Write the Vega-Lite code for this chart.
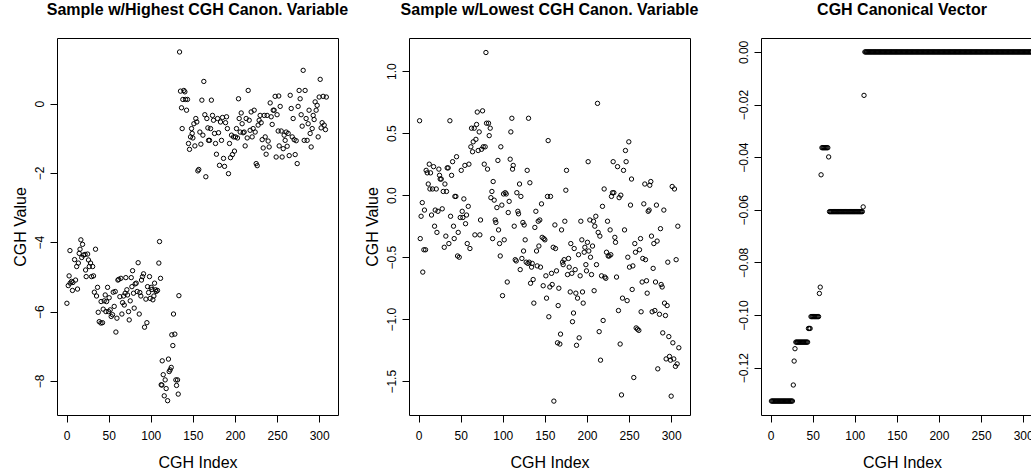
{
"$schema": "https://vega.github.io/schema/vega-lite/v6.json",
"autosize": {"type": "none"},
"padding": {"left": 57, "top": 38, "right": 974, "bottom": 434},
"background": "white",
"bounds": "flush",
"spacing": 71,
"config": {
  "view": {"stroke": "black", "strokeWidth": 1},
  "font": "Liberation Sans",
  "axis": {"domain": false, "grid": false, "tickColor": "black", "tickSize": 7, "tickWidth": 1, "labelColor": "black", "labelFont": "Liberation Sans", "labelFontSize": 12, "titleFont": "Liberation Sans", "titleFontSize": 16, "titleFontWeight": "normal", "titleColor": "black", "labelFlush": false, "labelOverlap": false},
  "axisX": {"labelPadding": 17, "labelBaseline": "alphabetic", "titleBaseline": "alphabetic", "titleY": 52},
  "axisY": {"labelAngle": -90, "labelAlign": "center", "labelBaseline": "alphabetic", "labelPadding": 6.5, "titleAngle": -90, "titleAlign": "center", "titleBaseline": "alphabetic", "titleX": -32},
  "title": {"font": "Liberation Sans", "fontSize": 16, "fontWeight": "bold", "color": "black", "offset": 20, "baseline": "alphabetic", "frame": "group", "anchor": "middle"},
  "point": {"filled": false, "color": "black", "strokeWidth": 1, "size": 19, "opacity": 1}
},
"datasets": {
"p1": [
{"i":0.4,"v":-5.76},{"i":2,"v":-5.25},{"i":3,"v":-4.97},{"i":4,"v":-4.24},{"i":4.2,"v":-5.18},{"i":5.9,"v":-5.13},{"i":7,"v":-5.39},{"i":7.5,"v":-5.16},{"i":9.5,"v":-4.5},{"i":10.7,"v":-5.09},
{"i":12,"v":-4.7},{"i":13,"v":-5.35},{"i":14,"v":-4.6},{"i":15,"v":-4.32},{"i":16,"v":-4.2},{"i":17,"v":-3.93},{"i":18,"v":-4.44},{"i":19,"v":-4.06},{"i":20,"v":-4.37},{"i":22,"v":-4.35},
{"i":22.6,"v":-4.8},{"i":23.3,"v":-4.99},{"i":25,"v":-4.34},{"i":26,"v":-4.51},{"i":27,"v":-4.7},{"i":28.5,"v":-4.6},{"i":29.7,"v":-4.99},{"i":31,"v":-4.7},{"i":32,"v":-4.97},{"i":33,"v":-5.44},
{"i":34.4,"v":-4.2},{"i":35.6,"v":-5.55},{"i":36.8,"v":-5.3},{"i":37.6,"v":-6.02},{"i":38.8,"v":-6.29},{"i":40.8,"v":-6.33},{"i":42.7,"v":-6.32},{"i":41,"v":-5.71},{"i":43.5,"v":-5.93},{"i":44.7,"v":-5.69},
{"i":45.9,"v":-5.52},{"i":46.7,"v":-6.0},{"i":47.5,"v":-5.71},{"i":48.7,"v":-5.3},{"i":49.9,"v":-6.0},{"i":50.6,"v":-5.6},{"i":51.8,"v":-5.95},{"i":53,"v":-6.14},{"i":54.6,"v":-6.09},{"i":55.4,"v":-5.44},
{"i":56.6,"v":-5.85},{"i":57.8,"v":-5.42},{"i":58.6,"v":-6.59},{"i":59.8,"v":-6.19},{"i":61,"v":-5.09},{"i":62,"v":-5.07},{"i":63.3,"v":-5.57},{"i":64.5,"v":-5.04},{"i":65.7,"v":-6.07},{"i":66.5,"v":-5.74},
{"i":67.7,"v":-5.55},{"i":68.5,"v":-5.81},{"i":69.6,"v":-5.47},{"i":70.4,"v":-5.02},{"i":71.6,"v":-5.37},{"i":72.4,"v":-5.52},{"i":73.6,"v":-6.0},{"i":74.4,"v":-6.24},{"i":75.6,"v":-5.69},{"i":76.8,"v":-5.02},
{"i":77.6,"v":-5.28},{"i":78.4,"v":-4.82},{"i":79.5,"v":-5.47},{"i":80.3,"v":-5.9},{"i":81.5,"v":-5.2},{"i":82.7,"v":-5.18},{"i":83.9,"v":-5.42},{"i":85,"v":-4.59},{"i":86.3,"v":-6.07},{"i":87,"v":-5.45},
{"i":88.2,"v":-5.55},{"i":89,"v":-5.09},{"i":90.2,"v":-4.99},{"i":91.4,"v":-4.91},{"i":92.6,"v":-6.45},{"i":94.2,"v":-5.64},{"i":95.4,"v":-6.32},{"i":96.2,"v":-5.28},{"i":97.4,"v":-5.45},{"i":98.5,"v":-4.99},
{"i":99.3,"v":-5.62},{"i":100.5,"v":-5.3},{"i":101.3,"v":-5.36},{"i":102.5,"v":-5.66},{"i":103.7,"v":-5.55},{"i":104.5,"v":-5.18},{"i":105.7,"v":-5.37},{"i":106.4,"v":-5.42},{"i":108,"v":-5.39},{"i":109.6,"v":-4.6},
{"i":110.4,"v":-3.98},{"i":111.6,"v":-5.04},{"i":112.4,"v":-8.11},{"i":113.2,"v":-8.12},{"i":113.6,"v":-7.42},{"i":114.8,"v":-7.82},{"i":116,"v":-8.43},{"i":117.1,"v":-7.97},{"i":118.3,"v":-8.22},{"i":120,"v":-8.57},
{"i":121,"v":-7.37},{"i":121.9,"v":-7.73},{"i":123,"v":-7.68},{"i":124.3,"v":-7.61},{"i":125,"v":-6.67},{"i":126.2,"v":-6.98},{"i":127,"v":-6.07},{"i":128.6,"v":-6.65},{"i":129.8,"v":-7.97},{"i":130.6,"v":-8.13},
{"i":131.8,"v":-7.97},{"i":132.6,"v":-8.38},{"i":133.4,"v":-5.54},
{"i":134.2,"v":1.49},{"i":135.3,"v":0.36},{"i":136.5,"v":-0.12},{"i":137.3,"v":-0.72},{"i":138.1,"v":0.12},{"i":139.3,"v":0.38},{"i":140.5,"v":0.34},{"i":141.3,"v":0.12},{"i":142.5,"v":-0.19},{"i":143.6,"v":0.12},
{"i":144.8,"v":-1.15},{"i":146,"v":-1.32},{"i":147.2,"v":-0.96},{"i":148.4,"v":-0.72},{"i":149.2,"v":-0.86},{"i":150,"v":-0.99},{"i":151.2,"v":-0.58},{"i":152.4,"v":-1.22},{"i":153.5,"v":-0.43},{"i":154.7,"v":-0.53},
{"i":155.9,"v":-1.94},{"i":157,"v":-1.9},{"i":158.3,"v":-0.82},{"i":159.5,"v":-1.17},{"i":160.7,"v":0.1},{"i":161.9,"v":-0.91},{"i":163,"v":0.64},{"i":164.2,"v":-0.32},{"i":165.4,"v":-2.11},{"i":166.6,"v":-0.43},
{"i":167.8,"v":-0.7},{"i":168.6,"v":-1.06},{"i":169.8,"v":-1.06},{"i":171,"v":-0.72},{"i":172,"v":0.1},{"i":173.3,"v":-0.34},{"i":174.5,"v":-0.48},{"i":175.7,"v":-0.86},{"i":176.9,"v":-1.15},{"i":178,"v":-1.46},
{"i":179.3,"v":-0.43},{"i":180.5,"v":-0.84},{"i":181.6,"v":-1.78},{"i":182.8,"v":-0.53},{"i":184,"v":-1.06},{"i":185.2,"v":-0.4},{"i":186.4,"v":-1.58},{"i":187.6,"v":-1.81},{"i":188.8,"v":-0.55},{"i":190,"v":-0.38},
{"i":191,"v":-0.72},{"i":192.3,"v":-2.02},{"i":193.5,"v":-1.15},{"i":194.7,"v":-1.56},{"i":195.9,"v":-0.91},{"i":197,"v":-1.47},{"i":198.3,"v":-0.96},{"i":199.4,"v":-1.37},{"i":200.6,"v":-0.96},{"i":201.8,"v":-0.72},
{"i":203,"v":-0.99},{"i":204.2,"v":0.14},{"i":205,"v":-0.43},{"i":206.2,"v":-0.82},{"i":207.4,"v":-0.27},{"i":208.5,"v":-0.58},{"i":209.7,"v":-0.84},{"i":210.9,"v":-0.82},{"i":212.1,"v":-1.22},{"i":213.3,"v":-0.43},
{"i":214.5,"v":-0.99},{"i":215.7,"v":0.38},{"i":216.9,"v":-0.48},{"i":218,"v":-0.77},{"i":219.2,"v":-0.24},{"i":220.4,"v":-0.96},{"i":221.6,"v":-0.72},{"i":222.8,"v":-0.19},{"i":224,"v":-0.82},{"i":225.2,"v":-1.73},
{"i":226.4,"v":-1.79},{"i":227.5,"v":-0.62},{"i":228.7,"v":-0.48},{"i":229.9,"v":-0.34},{"i":231.1,"v":-0.55},{"i":232.3,"v":-1.04},{"i":233.5,"v":-1.28},{"i":234.7,"v":-0.34},{"i":235.9,"v":-0.96},{"i":237,"v":-1.46},
{"i":238.2,"v":-0.34},{"i":239.4,"v":-1.08},{"i":240.6,"v":-1.25},{"i":241.8,"v":0.02},{"i":243,"v":-0.38},{"i":244.2,"v":-0.6},{"i":245.4,"v":-0.19},{"i":246.5,"v":-0.19},{"i":247.7,"v":0.21},{"i":248.9,"v":-1.54},
{"i":250,"v":-0.32},{"i":251.3,"v":-0.79},{"i":252,"v":0.22},{"i":252.5,"v":-1.22},{"i":253.7,"v":-0.08},{"i":254.9,"v":-0.79},{"i":256,"v":-1.54},{"i":257.3,"v":-1.3},{"i":258.4,"v":-0.91},{"i":259.6,"v":-1.06},
{"i":260.8,"v":-0.82},{"i":262,"v":-1.23},{"i":263.2,"v":-0.86},{"i":264.4,"v":-1.5},{"i":265.6,"v":0.24},{"i":266.8,"v":-0.14},{"i":268,"v":-0.96},{"i":269.1,"v":-0.43},{"i":270.3,"v":-1.04},{"i":271.5,"v":-1.47},
{"i":272.7,"v":-1.07},{"i":273.9,"v":-1.73},{"i":275,"v":-0.08},{"i":276.2,"v":0.38},{"i":277.4,"v":0.14},{"i":278.6,"v":-0.32},{"i":279.8,"v":-0.65},{"i":281,"v":0.96},{"i":282.2,"v":-1.06},{"i":283.3,"v":0.38},
{"i":284.5,"v":-0.43},{"i":285.7,"v":-1.06},{"i":286.9,"v":-0.58},{"i":288,"v":-0.19},{"i":289.3,"v":-0.86},{"i":290.5,"v":-1.25},{"i":291.7,"v":-0.72},{"i":292.9,"v":-0.34},{"i":294,"v":-0.46},{"i":295.2,"v":0.05},
{"i":296.4,"v":-0.19},{"i":297.6,"v":-0.05},{"i":298.8,"v":-0.96},{"i":300,"v":0.19},{"i":301.2,"v":0.7},{"i":302.3,"v":-0.7},{"i":303.5,"v":-0.55},{"i":304.7,"v":0.21},{"i":306,"v":-0.62},{"i":307.5,"v":-0.75},
{"i":308.5,"v":0.19}
],
"p2": [
{"i":1.2,"v":0.6},{"i":2,"v":-0.35},{"i":3,"v":-0.17},{"i":4.4,"v":-0.06},{"i":5,"v":-0.62},{"i":6.3,"v":-0.44},{"i":7,"v":-0.12},{"i":8.3,"v":-0.44},{"i":9,"v":0.2},{"i":10.3,"v":0.18},
{"i":11.5,"v":0.09},{"i":12.7,"v":0.25},{"i":13.5,"v":0.05},{"i":14.2,"v":0.18},{"i":15.4,"v":-0.16},{"i":16.6,"v":0.05},{"i":17.8,"v":0.23},{"i":19,"v":-0.25},{"i":19.8,"v":-0.12},{"i":21,"v":0.05},
{"i":21.8,"v":-0.3},{"i":23,"v":-0.13},{"i":24.1,"v":0.21},{"i":24.9,"v":0.16},{"i":25.7,"v":0.13},{"i":26.9,"v":0.13},{"i":28.1,"v":-0.11},{"i":29.3,"v":0.03},{"i":30.5,"v":-0.42},{"i":31.3,"v":0.09},
{"i":32.4,"v":-0.33},{"i":33.2,"v":0.03},{"i":34,"v":0.22},{"i":35.2,"v":0.22},{"i":36,"v":-0.39},{"i":37.2,"v":0.6},{"i":38,"v":-0.17},{"i":39.2,"v":0.16},{"i":40.4,"v":0.27},{"i":41.5,"v":-0.25},
{"i":42.3,"v":-0.35},{"i":43.1,"v":-0.01},{"i":44.3,"v":-0.01},{"i":45.1,"v":0.31},{"i":46.3,"v":-0.49},{"i":47.1,"v":-0.3},{"i":48.3,"v":-0.5},{"i":49.5,"v":-0.18},{"i":50.7,"v":0.2},{"i":51.8,"v":-0.13},
{"i":52.6,"v":-0.18},{"i":53.8,"v":-0.03},{"i":55,"v":0.24},{"i":55.8,"v":-0.23},{"i":57,"v":-0.16},{"i":57.8,"v":-0.39},{"i":59,"v":-0.09},{"i":59.8,"v":0.25},{"i":61,"v":-0.43},{"i":62.1,"v":0.39},
{"i":62.9,"v":0.54},{"i":64.1,"v":0.35},{"i":64.9,"v":0.43},{"i":66.1,"v":0.54},{"i":66.9,"v":-0.32},{"i":68.1,"v":0.45},{"i":68.9,"v":0.57},{"i":69.7,"v":0.67},{"i":70.8,"v":0.36},{"i":72,"v":0.51},
{"i":72.8,"v":-0.32},{"i":73.6,"v":-0.2},{"i":74.8,"v":0.37},{"i":76,"v":0.68},{"i":76.8,"v":0.39},{"i":78,"v":0.25},{"i":79.1,"v":0.39},{"i":80,"v":1.15},{"i":80.7,"v":0.58},{"i":81.9,"v":0.21},
{"i":83.1,"v":0.58},{"i":83.9,"v":0.48},{"i":85.1,"v":0.54},{"i":85.9,"v":-0.02},{"i":87.1,"v":0.03},{"i":87.9,"v":-0.35},{"i":88.6,"v":0.11},{"i":89.8,"v":-0.04},{"i":91,"v":-0.2},{"i":91.8,"v":-0.22},
{"i":93,"v":-0.1},{"i":94.2,"v":0.28},{"i":95,"v":-0.28},{"i":96.2,"v":-0.39},{"i":97,"v":-0.49},{"i":97.7,"v":0.39},{"i":98.9,"v":-0.08},{"i":99.7,"v":-0.81},{"i":100.9,"v":0.01},{"i":101.7,"v":-0.36},
{"i":102.9,"v":0.02},{"i":104.1,"v":0.01},{"i":105.3,"v":-0.7},{"i":106.5,"v":-0.14},{"i":107.6,"v":-0.05},{"i":108.8,"v":0.29},{"i":109.6,"v":0.51},{"i":110.8,"v":0.62},{"i":111.6,"v":0.21},{"i":112.4,"v":0.24},
{"i":113.6,"v":-0.25},{"i":114.8,"v":-0.52},{"i":116,"v":-0.53},{"i":116.7,"v":0.02},{"i":117.9,"v":-0.13},{"i":118.7,"v":-0.15},{"i":119.9,"v":0.09},{"i":120.7,"v":-0.6},{"i":121.5,"v":-0.01},{"i":122.7,"v":-0.51},
{"i":123.9,"v":-0.22},{"i":124.7,"v":-0.45},{"i":125.4,"v":-0.24},{"i":126.6,"v":-0.36},{"i":127.8,"v":-0.54},{"i":129,"v":0.2},{"i":129.8,"v":-0.55},{"i":130.6,"v":0.62},{"i":131.4,"v":-0.54},{"i":132.2,"v":0.1},
{"i":133,"v":-0.71},{"i":134.2,"v":-0.58},{"i":135,"v":-0.55},{"i":136.1,"v":-0.68},{"i":136.9,"v":-0.87},{"i":138.1,"v":-0.26},{"i":139.3,"v":-0.13},{"i":140.1,"v":-0.45},{"i":140.9,"v":-0.57},{"i":142.1,"v":-0.21},
{"i":142.9,"v":-0.41},{"i":144,"v":-0.2},{"i":144.8,"v":-0.58},{"i":146,"v":-0.07},{"i":146.8,"v":-0.34},{"i":148,"v":-0.73},{"i":148.8,"v":-0.35},{"i":150,"v":-0.36},{"i":151.2,"v":-0.65},{"i":152,"v":-0.83},
{"i":153.1,"v":-0.01},{"i":153.9,"v":0.44},{"i":154.7,"v":-0.98},{"i":155.9,"v":-0.74},{"i":156.7,"v":-0.01},{"i":157.9,"v":-0.63},{"i":158.7,"v":-0.72},{"i":159.9,"v":-0.42},{"i":160.7,"v":-1.66},{"i":161.9,"v":-0.24},
{"i":162.6,"v":-0.43},{"i":163.8,"v":-0.61},{"i":165,"v":-1.19},{"i":165.8,"v":-0.89},{"i":166.6,"v":-0.75},{"i":167.8,"v":-1.2},{"i":168.6,"v":-1.12},{"i":169.8,"v":-0.28},{"i":171,"v":-0.54},{"i":171.7,"v":-0.56},
{"i":172.9,"v":-0.52},{"i":173.7,"v":-0.21},{"i":174.9,"v":0.04},{"i":175.7,"v":0.2},{"i":176.9,"v":-0.64},{"i":178.1,"v":-0.51},{"i":178.9,"v":-0.58},{"i":180.1,"v":-0.78},{"i":180.8,"v":-0.39},{"i":182,"v":-0.63},
{"i":182.8,"v":-1.02},{"i":184,"v":-0.95},{"i":184.8,"v":-0.43},{"i":186,"v":-0.6},{"i":186.8,"v":-0.79},{"i":187.6,"v":-1.21},{"i":188.8,"v":-0.83},{"i":190,"v":-0.48},{"i":190.7,"v":-1.15},{"i":191.9,"v":-0.65},
{"i":192.7,"v":-0.21},{"i":193.9,"v":-0.36},{"i":194.7,"v":-0.78},{"i":195.5,"v":-0.87},{"i":196.7,"v":-0.46},{"i":197.5,"v":-0.42},{"i":198.7,"v":-0.56},{"i":199.4,"v":-0.61},{"i":200.6,"v":-0.38},{"i":201.4,"v":0.27},
{"i":202.2,"v":-0.45},{"i":203.4,"v":-0.2},{"i":204.2,"v":-0.5},{"i":205.4,"v":-0.64},{"i":206.6,"v":-0.41},{"i":207.8,"v":-0.21},{"i":208.5,"v":-0.77},{"i":209.3,"v":-0.25},{"i":210.5,"v":-0.17},{"i":211.3,"v":-0.56},
{"i":212.5,"v":0.74},{"i":213.3,"v":-0.3},{"i":214.5,"v":-1.1},{"i":215.3,"v":-0.33},{"i":216.1,"v":-1.33},{"i":217.3,"v":-0.65},{"i":218.4,"v":-0.09},{"i":219.2,"v":-1.01},{"i":220.4,"v":0.05},{"i":221.2,"v":-0.66},
{"i":222.4,"v":-0.67},{"i":223.2,"v":-0.46},{"i":224.4,"v":-0.21},{"i":225.2,"v":-0.49},{"i":226.4,"v":-0.49},{"i":227.5,"v":-0.28},{"i":228.3,"v":-0.48},{"i":229.1,"v":-0.01},{"i":230.3,"v":0.02},{"i":231.1,"v":0.27},
{"i":231.9,"v":0.02},{"i":233.1,"v":-0.34},{"i":233.9,"v":-0.38},{"i":235.1,"v":-0.66},{"i":236.3,"v":0.23},{"i":237.4,"v":-0.93},{"i":238.2,"v":-0.02},{"i":239.4,"v":-1.2},{"i":240.2,"v":0.0},{"i":241,"v":-1.61},
{"i":242.2,"v":-0.83},{"i":243.4,"v":0.2},{"i":244.6,"v":-0.28},{"i":245.7,"v":0.36},{"i":246.5,"v":0.27},{"i":247.7,"v":-0.85},{"i":248.5,"v":-0.5},{"i":249.7,"v":0.43},{"i":250.5,"v":-0.58},{"i":251.7,"v":-0.08},
{"i":252.9,"v":0.13},{"i":253.7,"v":-0.76},{"i":254.5,"v":-0.57},{"i":255.6,"v":-1.47},{"i":256.8,"v":-0.39},{"i":257.6,"v":-0.46},{"i":258.4,"v":-1.07},{"i":260,"v":-1.08},{"i":261.6,"v":-1.09},{"i":262.4,"v":-0.44},
{"i":263.6,"v":-0.35},{"i":264.3,"v":-0.94},{"i":265.5,"v":-0.7},{"i":266.3,"v":-0.51},{"i":267.5,"v":-0.07},{"i":268.7,"v":0.09},{"i":269.5,"v":-0.52},{"i":270.7,"v":-0.69},{"i":271.5,"v":-0.79},{"i":272.7,"v":-0.13},
{"i":273.8,"v":-0.12},{"i":274.6,"v":0.08},{"i":275.8,"v":0.11},{"i":276.6,"v":-0.33},{"i":277.4,"v":-0.94},{"i":278.6,"v":-0.59},{"i":279.4,"v":-0.39},{"i":280.6,"v":-0.93},{"i":281.4,"v":-0.7},{"i":282.5,"v":-0.08},
{"i":283.3,"v":-0.37},{"i":284.1,"v":-1.4},{"i":286.1,"v":-0.96},{"i":287.3,"v":-0.27},{"i":288.1,"v":-0.72},{"i":289.3,"v":-0.74},{"i":290,"v":-1.11},{"i":291.3,"v":-0.12},{"i":292.1,"v":-0.87},{"i":293.2,"v":-0.97},
{"i":294,"v":-1.32},{"i":295.2,"v":-0.89},{"i":296,"v":-0.54},{"i":297.2,"v":-1.14},{"i":298,"v":-1.3},{"i":299.2,"v":-1.33},{"i":300,"v":-1.62},{"i":301.2,"v":0.07},{"i":302,"v":-1.19},{"i":303.1,"v":-1.32},
{"i":303.9,"v":0.05},{"i":305.1,"v":-1.38},{"i":305.9,"v":-0.52},{"i":307.1,"v":-1.36},{"i":307.9,"v":-0.25},{"i":309.1,"v":-1.23}
],
"p3": [
{"i":1,"v":-0.1327},{"i":2,"v":-0.1327},{"i":3,"v":-0.1327},{"i":4,"v":-0.1327},{"i":5,"v":-0.1327},{"i":6,"v":-0.1327},{"i":7,"v":-0.1327},{"i":8,"v":-0.1327},{"i":9,"v":-0.1327},{"i":10,"v":-0.1327},
{"i":11,"v":-0.1327},{"i":12,"v":-0.1327},{"i":13,"v":-0.1327},{"i":14,"v":-0.1327},{"i":15,"v":-0.1327},{"i":16,"v":-0.1327},{"i":17,"v":-0.1327},{"i":18,"v":-0.1327},{"i":19,"v":-0.1327},{"i":20,"v":-0.1327},
{"i":21,"v":-0.1327},{"i":22,"v":-0.1327},{"i":23,"v":-0.1327},{"i":24,"v":-0.1327},{"i":25,"v":-0.1327},{"i":26,"v":-0.1327},{"i":27,"v":-0.1266},{"i":28,"v":-0.1175},{"i":29,"v":-0.1128},{"i":30,"v":-0.1103},
{"i":31,"v":-0.1103},{"i":32,"v":-0.1103},{"i":33,"v":-0.1103},{"i":34,"v":-0.1103},{"i":35,"v":-0.1103},{"i":36,"v":-0.1103},{"i":37,"v":-0.1103},{"i":38,"v":-0.1103},{"i":39,"v":-0.1103},{"i":40,"v":-0.1103},
{"i":41,"v":-0.1103},{"i":42,"v":-0.1103},{"i":43,"v":-0.1103},{"i":44,"v":-0.1103},{"i":45,"v":-0.1051},{"i":46,"v":-0.1051},{"i":47,"v":-0.1051},{"i":48,"v":-0.1006},{"i":49,"v":-0.1006},{"i":50,"v":-0.1006},
{"i":51,"v":-0.1006},{"i":52,"v":-0.1006},{"i":53,"v":-0.1006},{"i":54,"v":-0.1006},{"i":55,"v":-0.1006},{"i":56,"v":-0.1006},{"i":57,"v":-0.1006},{"i":58,"v":-0.0918},{"i":59,"v":-0.0894},{"i":60,"v":-0.0467},
{"i":61,"v":-0.0364},{"i":62,"v":-0.0364},{"i":63,"v":-0.0364},{"i":64,"v":-0.0364},{"i":65,"v":-0.0364},{"i":66,"v":-0.0364},{"i":67,"v":-0.0364},{"i":68,"v":-0.0364},{"i":69,"v":-0.0399},{"i":70,"v":-0.0607},
{"i":71,"v":-0.0607},{"i":72,"v":-0.0607},{"i":73,"v":-0.0607},{"i":74,"v":-0.0607},{"i":75,"v":-0.0607},{"i":76,"v":-0.0607},{"i":77,"v":-0.0607},{"i":78,"v":-0.0607},{"i":79,"v":-0.0607},{"i":80,"v":-0.0607},
{"i":81,"v":-0.0607},{"i":82,"v":-0.0607},{"i":83,"v":-0.0607},{"i":84,"v":-0.0607},{"i":85,"v":-0.0607},{"i":86,"v":-0.0607},{"i":87,"v":-0.0607},{"i":88,"v":-0.0607},{"i":89,"v":-0.0607},{"i":90,"v":-0.0607},
{"i":91,"v":-0.0607},{"i":92,"v":-0.0607},{"i":93,"v":-0.0607},{"i":94,"v":-0.0607},{"i":95,"v":-0.0607},{"i":96,"v":-0.0607},{"i":97,"v":-0.0607},{"i":98,"v":-0.0607},{"i":99,"v":-0.0607},{"i":100,"v":-0.0607},
{"i":101,"v":-0.0607},{"i":102,"v":-0.0607},{"i":103,"v":-0.0607},{"i":104,"v":-0.0607},{"i":105,"v":-0.0607},{"i":106,"v":-0.0607},{"i":107,"v":-0.0607},{"i":108,"v":-0.0607},{"i":109,"v":-0.0607},{"i":110,"v":-0.0589},
{"i":111,"v":-0.0165},{"i":112,"v":0},{"i":113,"v":0},{"i":114,"v":0},{"i":115,"v":0},{"i":116,"v":0},{"i":117,"v":0},{"i":118,"v":0},{"i":119,"v":0},{"i":120,"v":0},
{"i":121,"v":0},{"i":122,"v":0},{"i":123,"v":0},{"i":124,"v":0},{"i":125,"v":0},{"i":126,"v":0},{"i":127,"v":0},{"i":128,"v":0},{"i":129,"v":0},{"i":130,"v":0},
{"i":131,"v":0},{"i":132,"v":0},{"i":133,"v":0},{"i":134,"v":0},{"i":135,"v":0},{"i":136,"v":0},{"i":137,"v":0},{"i":138,"v":0},{"i":139,"v":0},{"i":140,"v":0},
{"i":141,"v":0},{"i":142,"v":0},{"i":143,"v":0},{"i":144,"v":0},{"i":145,"v":0},{"i":146,"v":0},{"i":147,"v":0},{"i":148,"v":0},{"i":149,"v":0},{"i":150,"v":0},
{"i":151,"v":0},{"i":152,"v":0},{"i":153,"v":0},{"i":154,"v":0},{"i":155,"v":0},{"i":156,"v":0},{"i":157,"v":0},{"i":158,"v":0},{"i":159,"v":0},{"i":160,"v":0},
{"i":161,"v":0},{"i":162,"v":0},{"i":163,"v":0},{"i":164,"v":0},{"i":165,"v":0},{"i":166,"v":0},{"i":167,"v":0},{"i":168,"v":0},{"i":169,"v":0},{"i":170,"v":0},
{"i":171,"v":0},{"i":172,"v":0},{"i":173,"v":0},{"i":174,"v":0},{"i":175,"v":0},{"i":176,"v":0},{"i":177,"v":0},{"i":178,"v":0},{"i":179,"v":0},{"i":180,"v":0},
{"i":181,"v":0},{"i":182,"v":0},{"i":183,"v":0},{"i":184,"v":0},{"i":185,"v":0},{"i":186,"v":0},{"i":187,"v":0},{"i":188,"v":0},{"i":189,"v":0},{"i":190,"v":0},
{"i":191,"v":0},{"i":192,"v":0},{"i":193,"v":0},{"i":194,"v":0},{"i":195,"v":0},{"i":196,"v":0},{"i":197,"v":0},{"i":198,"v":0},{"i":199,"v":0},{"i":200,"v":0},
{"i":201,"v":0},{"i":202,"v":0},{"i":203,"v":0},{"i":204,"v":0},{"i":205,"v":0},{"i":206,"v":0},{"i":207,"v":0},{"i":208,"v":0},{"i":209,"v":0},{"i":210,"v":0},
{"i":211,"v":0},{"i":212,"v":0},{"i":213,"v":0},{"i":214,"v":0},{"i":215,"v":0},{"i":216,"v":0},{"i":217,"v":0},{"i":218,"v":0},{"i":219,"v":0},{"i":220,"v":0},
{"i":221,"v":0},{"i":222,"v":0},{"i":223,"v":0},{"i":224,"v":0},{"i":225,"v":0},{"i":226,"v":0},{"i":227,"v":0},{"i":228,"v":0},{"i":229,"v":0},{"i":230,"v":0},
{"i":231,"v":0},{"i":232,"v":0},{"i":233,"v":0},{"i":234,"v":0},{"i":235,"v":0},{"i":236,"v":0},{"i":237,"v":0},{"i":238,"v":0},{"i":239,"v":0},{"i":240,"v":0},
{"i":241,"v":0},{"i":242,"v":0},{"i":243,"v":0},{"i":244,"v":0},{"i":245,"v":0},{"i":246,"v":0},{"i":247,"v":0},{"i":248,"v":0},{"i":249,"v":0},{"i":250,"v":0},
{"i":251,"v":0},{"i":252,"v":0},{"i":253,"v":0},{"i":254,"v":0},{"i":255,"v":0},{"i":256,"v":0},{"i":257,"v":0},{"i":258,"v":0},{"i":259,"v":0},{"i":260,"v":0},
{"i":261,"v":0},{"i":262,"v":0},{"i":263,"v":0},{"i":264,"v":0},{"i":265,"v":0},{"i":266,"v":0},{"i":267,"v":0},{"i":268,"v":0},{"i":269,"v":0},{"i":270,"v":0},
{"i":271,"v":0},{"i":272,"v":0},{"i":273,"v":0},{"i":274,"v":0},{"i":275,"v":0},{"i":276,"v":0},{"i":277,"v":0},{"i":278,"v":0},{"i":279,"v":0},{"i":280,"v":0},
{"i":281,"v":0},{"i":282,"v":0},{"i":283,"v":0},{"i":284,"v":0},{"i":285,"v":0},{"i":286,"v":0},{"i":287,"v":0},{"i":288,"v":0},{"i":289,"v":0},{"i":290,"v":0},
{"i":291,"v":0},{"i":292,"v":0},{"i":293,"v":0},{"i":294,"v":0},{"i":295,"v":0},{"i":296,"v":0},{"i":297,"v":0},{"i":298,"v":0},{"i":299,"v":0},{"i":300,"v":0},
{"i":301,"v":0},{"i":302,"v":0},{"i":303,"v":0},{"i":304,"v":0},{"i":305,"v":0},{"i":306,"v":0},{"i":307,"v":0},{"i":308,"v":0},{"i":309,"v":0},{"i":310,"v":0}
]
},
"hconcat": [
{
  "width": 281, "height": 377,
  "title": {"text": "Sample w/Highest CGH Canon. Variable"},
  "data": {"name": "p1"},
  "mark": {"type": "point"},
  "encoding": {
    "x": {"field": "i", "type": "quantitative", "scale": {"domain": [-11.36, 322.36], "nice": false, "zero": false}, "axis": {"values": [0, 50, 100, 150, 200, 250, 300], "format": "d", "title": "CGH Index"}},
    "y": {"field": "v", "type": "quantitative", "scale": {"domain": [-8.983, 1.893], "nice": false, "zero": false}, "axis": {"values": [-8, -6, -4, -2, 0], "format": "d", "title": "CGH Value"}}
  }
},
{
  "width": 281, "height": 377,
  "title": {"text": "Sample w/Lowest CGH Canon. Variable"},
  "data": {"name": "p2"},
  "mark": {"type": "point"},
  "encoding": {
    "x": {"field": "i", "type": "quantitative", "scale": {"domain": [-11.36, 322.36], "nice": false, "zero": false}, "axis": {"values": [0, 50, 100, 150, 200, 250, 300], "format": "d", "title": "CGH Index"}},
    "y": {"field": "v", "type": "quantitative", "scale": {"domain": [-1.772, 1.267], "nice": false, "zero": false}, "axis": {"values": [-1.5, -1, -0.5, 0, 0.5, 1], "format": ".1f", "title": "CGH Value"}}
  }
},
{
  "width": 272, "height": 377,
  "title": {"text": "CGH Canonical Vector", "dx": 5},
  "data": {"name": "p3"},
  "mark": {"type": "point"},
  "encoding": {
    "x": {"field": "i", "type": "quantitative", "scale": {"domain": [-11.36, 311.7], "nice": false, "zero": false}, "axis": {"values": [0, 50, 100, 150, 200, 250, 300], "format": "d", "title": "CGH Index", "titleX": 141}},
    "y": {"field": "v", "type": "quantitative", "scale": {"domain": [-0.138, 0.0053], "nice": false, "zero": false}, "axis": {"values": [0, -0.02, -0.04, -0.06, -0.08, -0.1, -0.12], "format": ".2f", "title": null}}
  }
}
]
}
